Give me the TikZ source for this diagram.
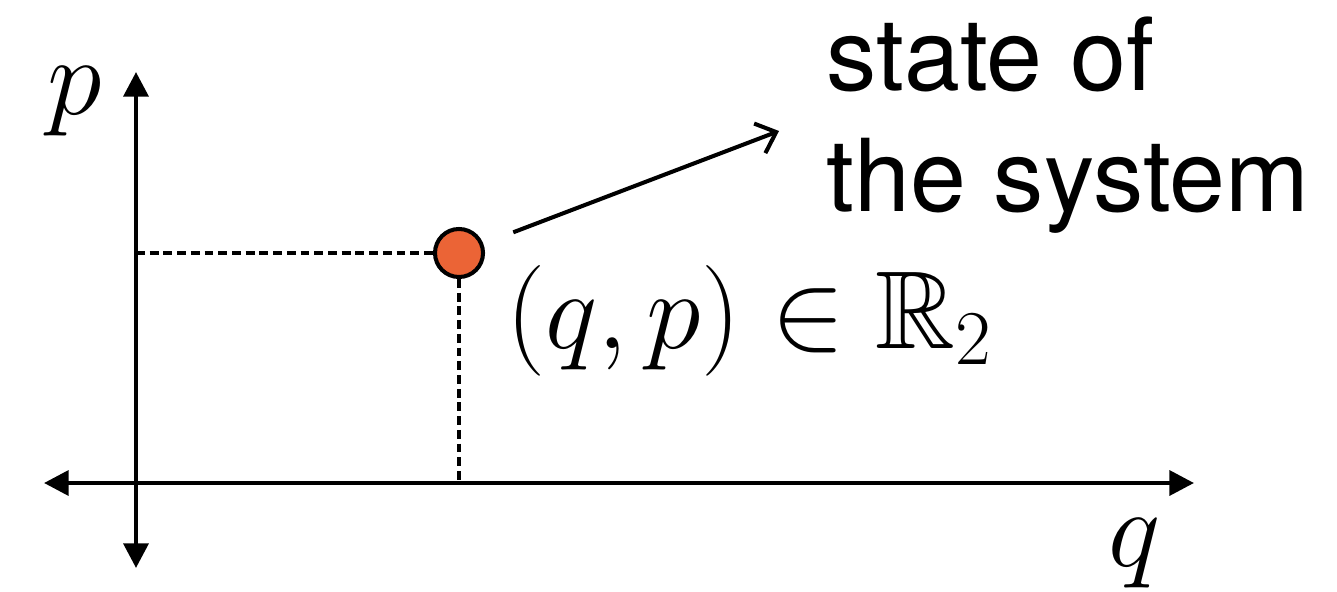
\RequirePackage{fix-cm}
\documentclass[tikz,border=0pt]{standalone}
\usepackage{amsmath}
\usepackage{amssymb}
\usepackage{fontspec}
\setsansfont{TeX Gyre Heros}
\usetikzlibrary{arrows.meta}
\definecolor{dotorange}{HTML}{EB6436}

\begin{document}
\begin{tikzpicture}[x=0.01cm,y=-0.01cm,
    axis/.style={line width=1.3pt,{Triangle[width=7pt,length=7pt]}-{Triangle[width=7pt,length=7pt]}},
    guide/.style={line width=1pt,dash pattern=on 2.5pt off 1.4pt},
    statedot/.style={circle,draw,line width=1.15pt,fill=dotorange,minimum size=0.48cm,inner sep=0pt},
    bigmath/.style={inner sep=0pt,font=\fontsize{31.5}{37}\selectfont},
    bigtext/.style={inner sep=0pt,align=left,font=\sffamily\fontsize{28.6}{34.4}\selectfont}]
    \useasboundingbox (0,0) rectangle (1337,591);

    \coordinate (top) at (136,72);
    \coordinate (bottom) at (136,568);
    \coordinate (left) at (44,483);
    \coordinate (right) at (1194,483);
    \coordinate (foot) at (459,483);
    \coordinate (wall) at (136,253);
    \coordinate (tip) at (779,131);

    \draw[axis] (bottom)--(top);
    \draw[axis] (left)--(right);

    \node[statedot] (state) at (459,253) {};
    \draw[guide] (wall)--(state.west);
    \draw[guide] (state.south)--(foot);
    \draw[line width=1.15pt,-{Straight Barb[length=5pt,width=9pt]},shorten <=0.32cm] (state)--(tip);

    \node[bigmath,anchor=base west] (plabel) at (47,115) {$p$};
    \node[bigmath,anchor=base west] (qlabel) at (1108,566) {$q$};
    \node[bigmath,anchor=base west] (coords) at (506,348) {$(q,p)\in\mathbb{R}_2$};
    % base of a two-line node is its last line
    \node[bigtext,anchor=base west] (caption) at (826,211) {state of\\the system};
\end{tikzpicture}
\end{document}
